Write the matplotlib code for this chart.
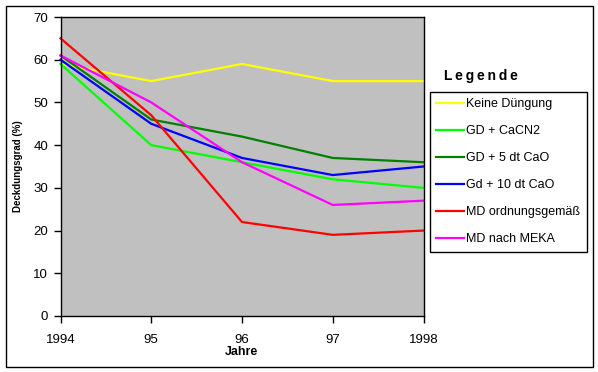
import matplotlib
matplotlib.use("Agg")
import matplotlib.pyplot as plt
from matplotlib.patches import Rectangle

years = [1994, 1995, 1996, 1997, 1998]
xtick_labels = ["1994", "95", "96", "97", "1998"]
series_names = ["Keine Düngung", "GD + CaCN2", "GD + 5 dt CaO", "Gd + 10 dt CaO",
                "MD ordnungsgemäß", "MD nach MEKA"]
keine = [59, 55, 59, 55, 55]
cacn2 = [59, 40, 36, 32, 30]
cao5 = [61, 46, 42, 37, 36]
cao10 = [60, 45, 37, 33, 35]
md_ord = [65, 47, 22, 19, 20]
md_meka = [61, 50, 36, 26, 27]
colors = ["#FFFF00", "#00FF00", "#008000", "#0000FF", "#FF0000", "#FF00FF"]

plt.rcParams['font.family'] = ['Liberation Sans', 'DejaVu Sans']

W, H = 598, 372
fig = plt.figure(figsize=(W / 100, H / 100), dpi=100)
fig.patch.set_facecolor("white")
fig.patches.append(Rectangle((5.5 / W, 1 - 366.5 / H), 587 / W, 361 / H,
                             transform=fig.transFigure, fill=False,
                             edgecolor="black", linewidth=1))

ax = fig.add_axes([60.5 / W, 1 - 316 / H, 363 / W, 299 / H])
ax.set_facecolor("#C0C0C0")

all_series = [keine, cacn2, cao5, cao10, md_ord, md_meka]
lines = []
for vals, name, c in zip(all_series, series_names, colors):
    ln, = ax.plot(years, vals, color=c, linewidth=1.6, label=name,
                  solid_joinstyle="miter", clip_on=False)
    lines.append(ln)

ax.set_xlim(1994, 1998)
ax.set_ylim(0, 70)
ax.set_xticks(years)
ax.set_xticklabels(xtick_labels)
ax.set_yticks(range(0, 71, 10))
ax.tick_params(axis="both", direction="out", length=5, width=1, labelsize=9.5,
               colors="black", pad=4)
ax.tick_params(axis="x", pad=8)
for s in ax.spines.values():
    s.set_color("black")
    s.set_linewidth(1)

fig.text(241 / W, 1 - 352 / H, "Jahre", ha="center", va="center",
         fontsize=9, fontweight="bold")
fig.text(18 / W, 1 - 166 / H, "Deckdungsgrad (%)", ha="center", va="center",
         rotation=90, fontsize=7, fontweight="bold")

fig.text(481 / W, 1 - 76 / H, "\u2009".join("Legende"), ha="center", va="center",
         fontsize=10, fontweight="bold")

leg = fig.legend(handles=lines, labels=series_names, loc="upper left",
                 bbox_to_anchor=(429.5 / W, 1 - 91.5 / H), fontsize=9,
                 frameon=True, fancybox=False, edgecolor="black",
                 framealpha=1, borderpad=0.55, labelspacing=1.2,
                 handlelength=2.2, handletextpad=0.2, borderaxespad=0)
leg.get_frame().set_linewidth(1)

fig.savefig("out.png", dpi=100)
